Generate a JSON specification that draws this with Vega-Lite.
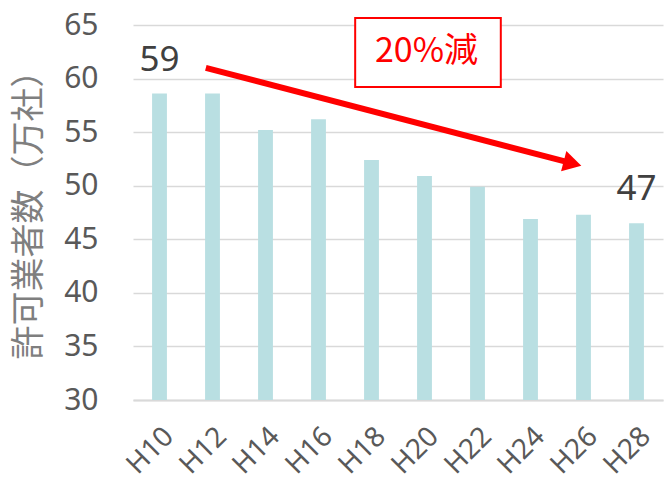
{
  "$schema": "https://vega.github.io/schema/vega-lite/v6.json",
  "autosize": {"type": "none"},
  "width": 530,
  "height": 375,
  "padding": {"left": 133, "top": 25, "right": 3, "bottom": 82},
  "background": "white",
  "config": {"view": {"stroke": null}},
  "datasets": {
    "main": [
      {"year": "H10", "value": 58.6, "label": "59"},
      {"year": "H12", "value": 58.6, "label": ""},
      {"year": "H14", "value": 55.2, "label": ""},
      {"year": "H16", "value": 56.2, "label": ""},
      {"year": "H18", "value": 52.4, "label": ""},
      {"year": "H20", "value": 50.9, "label": ""},
      {"year": "H22", "value": 49.9, "label": ""},
      {"year": "H24", "value": 46.9, "label": ""},
      {"year": "H26", "value": 47.3, "label": ""},
      {"year": "H28", "value": 46.5, "label": "47"}
    ],
    "arrow": [{"from": "H12", "y1": 61.0, "to": "H26", "y2": 52.08}],
    "box": [{"from": "H18", "to": "H22", "top": 65.65, "bottom": 59.21, "text": "20%減", "mid": "H20", "ty": 62.48}]
  },
  "layer": [
    {
      "data": {"name": "main"},
      "mark": {"type": "bar", "color": "#b9dfe2"},
      "encoding": {
        "x": {
          "field": "year", "type": "nominal", "sort": null,
          "scale": {"paddingInner": 0.72, "paddingOuter": 0.36},
          "axis": {
            "title": null, "labelAngle": -45, "labelFont": "Noto Sans", "labelFontSize": 28,
            "labelColor": "#595959", "ticks": false, "labelPadding": 22, "labelDx": -4,
            "domainColor": "#d9d9d9", "domainWidth": 2
          }
        },
        "y": {
          "field": "value", "type": "quantitative",
          "scale": {"domain": [30, 65], "nice": false, "zero": false},
          "axis": {
            "title": "許可業者数（万社）", "titleFont": "Noto Sans CJK JP", "titleFontSize": 34,
            "titleFontWeight": "normal", "titleColor": "#7f7f7f", "titleAngle": -90,
            "titleX": -104, "titleY": 181, "titleBaseline": "middle", "titleAlign": "center",
            "values": [30, 35, 40, 45, 50, 55, 60, 65],
            "labelFont": "Noto Sans", "labelFontSize": 30, "labelColor": "#595959",
            "ticks": false, "domain": false, "labelPadding": 35,
            "gridColor": "#d9d9d9", "gridWidth": 1.5
          }
        },
        "y2": {"datum": 30}
      }
    },
    {
      "data": {"name": "main"},
      "transform": [{"filter": "datum.label != ''"}],
      "mark": {"type": "text", "font": "Noto Sans", "fontSize": 35, "color": "#404040", "dy": -34, "baseline": "middle", "align": "center"},
      "encoding": {
        "x": {"field": "year", "type": "nominal", "sort": null},
        "y": {"field": "value", "type": "quantitative"},
        "text": {"field": "label"}
      }
    },
    {
      "data": {"name": "arrow"},
      "mark": {"type": "rule", "color": "#ff0000", "strokeWidth": 6},
      "encoding": {
        "x": {"field": "from", "type": "nominal", "sort": null, "bandPosition": 0.05},
        "x2": {"field": "to", "bandPosition": -0.24},
        "y": {"field": "y1", "type": "quantitative"},
        "y2": {"field": "y2"}
      }
    },
    {
      "data": {"name": "arrow"},
      "mark": {"type": "point", "shape": "triangle-right", "filled": true, "color": "#ff0000", "opacity": 1, "size": 441, "angle": 14.6},
      "encoding": {
        "x": {"field": "to", "type": "nominal", "sort": null, "bandPosition": -0.24},
        "y": {"field": "y2", "type": "quantitative"}
      }
    },
    {
      "data": {"name": "box"},
      "mark": {"type": "rect", "fill": "white", "stroke": "#ff0000", "strokeWidth": 2},
      "encoding": {
        "x": {"field": "from", "type": "nominal", "sort": null, "bandPosition": -0.6},
        "x2": {"field": "to", "bandPosition": 2.07},
        "y": {"field": "top", "type": "quantitative"},
        "y2": {"field": "bottom"}
      }
    },
    {
      "data": {"name": "box"},
      "mark": {"type": "text", "font": "Noto Sans CJK JP", "fontSize": 34, "color": "#ff0000", "baseline": "middle", "align": "center"},
      "encoding": {
        "x": {"field": "mid", "type": "nominal", "sort": null, "bandPosition": 0.63},
        "y": {"field": "ty", "type": "quantitative"},
        "text": {"field": "text"}
      }
    }
  ]
}
